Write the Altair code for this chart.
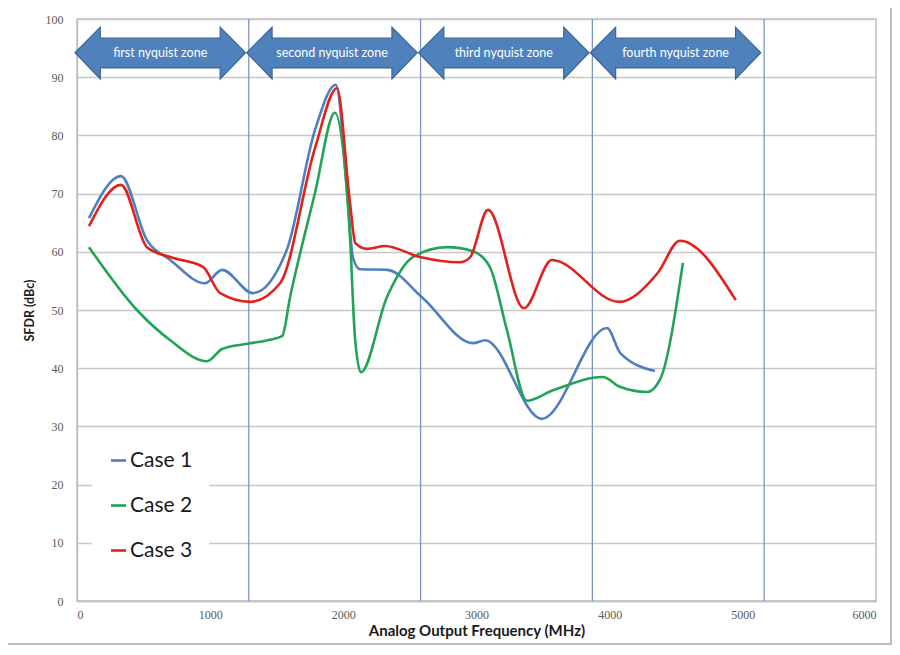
## Import libraries
import pandas as pd
import altair as alt

## Data (frequency in MHz, SFDR in dBc)
case1_freq = [90, 330, 525, 700, 960, 1090, 1320, 1575, 1787, 1944, 2035, 2072, 2125, 2330, 2590, 2975, 3065, 3490, 3980, 4080, 4340]
case1_sfdr = [65.8, 73.0, 62.0, 58.6, 54.6, 56.9, 52.9, 60.3, 80.9, 88.7, 68.4, 59.0, 57.0, 56.9, 52.2, 44.3, 44.8, 31.3, 46.9, 42.6, 39.5]

case2_freq = [90, 450, 700, 976, 1090, 1280, 1450, 1540, 1600, 1787, 1937, 2050, 2087, 2132, 2327, 2522, 2778, 2973, 3100, 3228, 3378, 3574, 3949, 4077, 4280, 4377, 4550]
case2_sfdr = [60.8, 50.0, 44.8, 41.2, 43.3, 44.2, 44.9, 45.5, 52.2, 70.1, 83.9, 62.5, 45.4, 39.3, 52.2, 59.1, 60.8, 60.1, 57.4, 46.6, 34.4, 36.2, 38.5, 36.8, 35.9, 38.0, 58.1]

case3_freq = [90, 330, 525, 700, 946, 1075, 1300, 1525, 1787, 1952, 2050, 2090, 2180, 2312, 2575, 2875, 2950, 3086, 3356, 3566, 4069, 4362, 4527, 4947]
case3_sfdr = [64.4, 71.5, 60.8, 59.1, 57.4, 52.9, 51.4, 54.6, 77.8, 88.1, 68.4, 61.5, 60.5, 61.0, 59.1, 58.2, 59.0, 67.2, 50.3, 58.6, 51.4, 56.4, 61.9, 51.7]

case_names = ["Case 1", "Case 2", "Case 3"]
case_colors = ["#4f7fbf", "#22a356", "#e3201c"]

# nyquist zone boundaries (Fs = 2580 MHz)
zone_edges = [0, 1290, 2580, 3870, 5160]
zone_names = ["first nyquist zone", "second nyquist zone", "third nyquist zone", "fourth nyquist zone"]

x_ticks = [0, 1000, 2000, 3000, 4000, 5000, 6000]
y_ticks = [0, 10, 20, 30, 40, 50, 60, 70, 80, 90, 100]

## Build tables
rows = []
for name, fr, sf in zip(case_names, [case1_freq, case2_freq, case3_freq], [case1_sfdr, case2_sfdr, case3_sfdr]):
    for i, (f, s) in enumerate(zip(fr, sf)):
        rows.append({"Case": name, "Freq": f, "SFDR": s, "ord": i})
df = pd.DataFrame(rows)

# double headed arrows, one per zone: closed outline built from the zone edges
head = 190   # head length in MHz
arrow_rows = []
for i in range(4):
    a = zone_edges[i] - 15
    b = zone_edges[i + 1] - 25
    outline = [
        (a, 94.2), (a + head, 98.6), (a + head, 96.7), (b - head, 96.7), (b - head, 98.6),
        (b, 94.2), (b - head, 89.7), (b - head, 91.6), (a + head, 91.6), (a + head, 89.7),
        (a, 94.2),
    ]
    for j, (x, y) in enumerate(outline):
        arrow_rows.append({"zone": i, "ord": j, "x": x, "y": y})
arrows = pd.DataFrame(arrow_rows)

labels = pd.DataFrame({
    "x": [(zone_edges[i] + zone_edges[i + 1]) / 2 - 20 for i in range(4)],
    "y": [94.2] * 4,
    "name": zone_names,
})
lines = pd.DataFrame({"x": zone_edges[1:]})

## Scales
xs = alt.Scale(domain=[0, 6000], nice=False)
ys = alt.Scale(domain=[0, 100], nice=False)

curves = alt.Chart(df).mark_line(interpolate="monotone", strokeWidth=2.6).encode(
    x=alt.X("Freq:Q", scale=xs, title="Analog Output Frequency (MHz)",
            axis=alt.Axis(values=x_ticks, format="d", grid=False, ticks=False,
                          labelPadding=8, titlePadding=3)),
    y=alt.Y("SFDR:Q", scale=ys, title="SFDR (dBc)",
            axis=alt.Axis(values=y_ticks, format="d", grid=True, ticks=False,
                          labelPadding=14, titlePadding=9)),
    color=alt.Color("Case:N", scale=alt.Scale(domain=case_names, range=case_colors),
                    legend=alt.Legend(orient="none", legendX=15, legendY=415, title=None,
                                      symbolType="stroke", symbolSize=225, symbolStrokeWidth=2.6,
                                      labelFontSize=21, labelFont="Lato", labelColor="#1a1a1a",
                                      rowPadding=23, padding=16, fillColor="white",
                                      labelOffset=1, labelLimit=200)),
    order="ord:Q",
)

zone_rules = alt.Chart(lines).mark_rule(color="#7d95c6", strokeWidth=1.3).encode(
    x=alt.X("x:Q", scale=xs)
)

arrow_marks = alt.Chart(arrows).mark_line(
    fill="#4f81bd", stroke="#3b6595", strokeWidth=1.2, interpolate="linear-closed"
).encode(
    x=alt.X("x:Q", scale=xs),
    y=alt.Y("y:Q", scale=ys),
    detail="zone:N",
    order="ord:Q",
)

arrow_text = alt.Chart(labels).mark_text(
    color="white", font="Lato", fontSize=12.5
).encode(
    x=alt.X("x:Q", scale=xs),
    y=alt.Y("y:Q", scale=ys),
    text="name:N",
)

frame = alt.Chart(pd.DataFrame({"k": [0]})).mark_rect(
    fillOpacity=0, stroke="#a6a6a6", strokeWidth=1.5
).encode(
    x=alt.value(-72), x2=alt.value(814), y=alt.value(-14), y2=alt.value(625)
)

chart = alt.layer(zone_rules, curves, arrow_marks, arrow_text, frame).properties(
    width=799,
    height=582,
    padding={"left": 69, "top": 11, "right": 16, "bottom": 45},
    autosize=alt.AutoSizeParams(type="none"),
).configure_view(
    stroke="#bfbfbf", strokeWidth=1.5
).configure_axis(
    labelFont="Liberation Serif", labelFontSize=12, labelColor="#595959",
    titleFont="Lato", titleFontWeight="bold", titleColor="#1a1a1a",
    domainColor="#bfbfbf", domainWidth=1.5, gridColor="#c8c8c8", gridWidth=1.3,
).configure_axisX(
    titleFontSize=15
).configure_axisY(
    titleFontSize=12.5
)

chart.save("out.html", embed_options={"renderer": "svg", "actions": False})
